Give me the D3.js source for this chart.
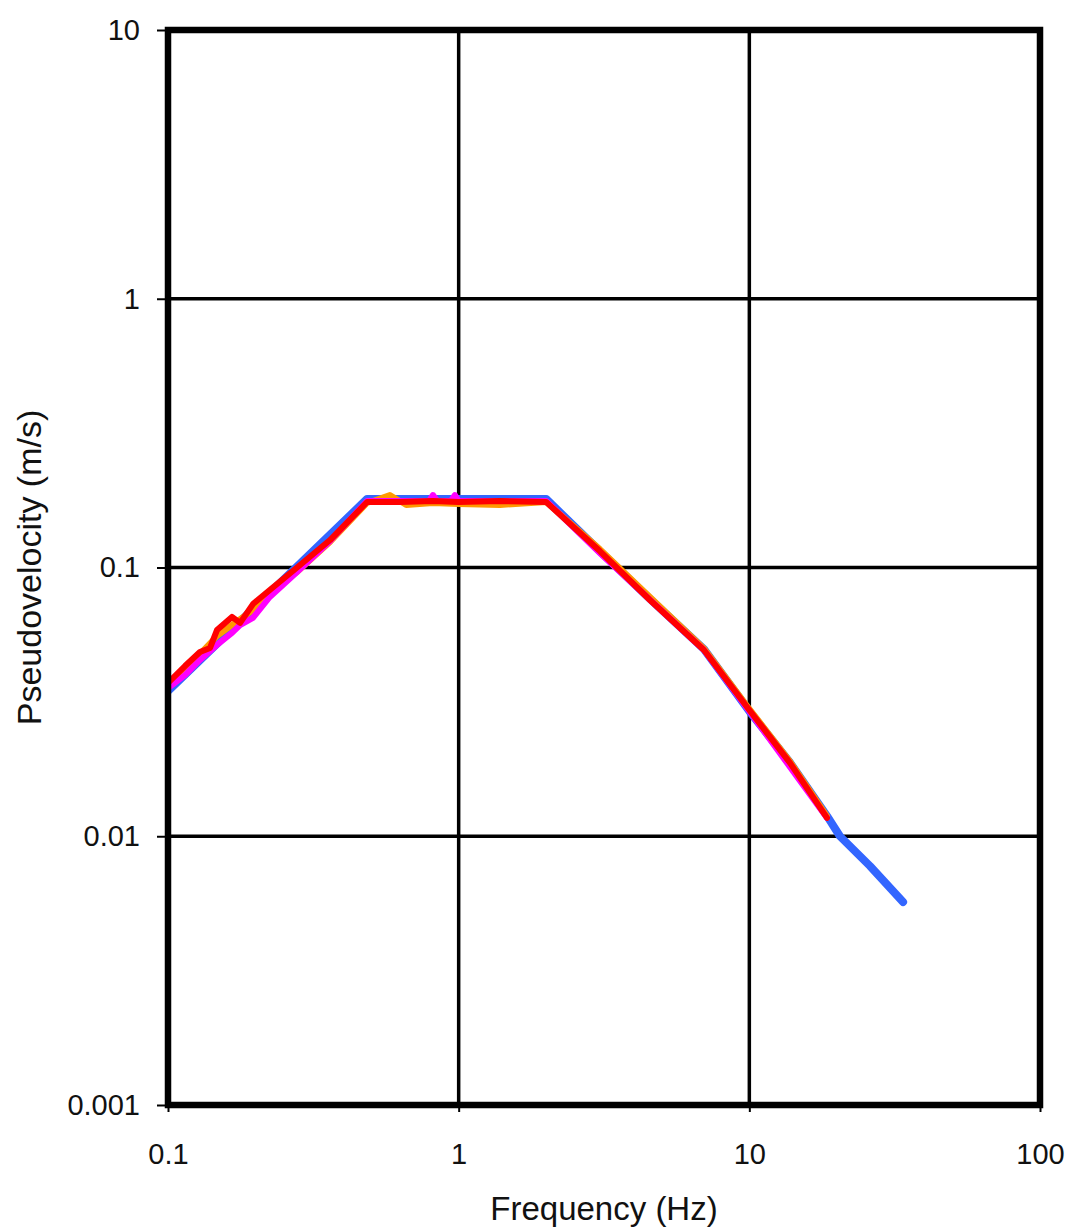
<!DOCTYPE html>
<html>
<head>
<meta charset="utf-8">
<script src="https://d3js.org/d3.v7.min.js"></script>
<style>
  body { margin: 0; background: #fff; }
  text { font-family: "Liberation Sans", Arial, sans-serif; fill: #111; }
</style>
</head>
<body>
<div id="chart"></div>
<script>
// ticks
const xTicks = [0.1, 1, 10, 100];
const yTicks = [0.001, 0.01, 0.1, 1, 10];

// blue record (longest, goes to ~34 Hz)
const blueF = [0.1, 0.484, 2.0, 3.06, 4.55, 6.98, 10, 13.8, 18.5, 20.5, 26.0, 33.8];
const blueV = [0.0347, 0.1799, 0.1799, 0.1151, 0.0764, 0.0497, 0.0292, 0.0188, 0.0119, 0.0100, 0.00775, 0.00569];

// orange record
const orangeF = [0.1, 0.1288, 0.1474, 0.166, 0.196, 0.224, 0.278, 0.361, 0.484, 0.58, 0.66, 0.816, 1.0, 1.387, 2.0, 3.06, 6.98, 10, 13.8, 18.5];
const orangeV = [0.0362, 0.0477, 0.0556, 0.0611, 0.0695, 0.0811, 0.0962, 0.1244, 0.1738, 0.1861, 0.1709, 0.1738, 0.1723, 0.1709, 0.1753, 0.1171, 0.0500, 0.0298, 0.0190, 0.0119];

// magenta record
const magentaF = [0.1, 0.1144, 0.1288, 0.1474, 0.166, 0.177, 0.196, 0.224, 0.278, 0.361, 0.484, 0.628, 0.79, 0.816, 0.845, 0.94, 0.971, 1.0, 1.387, 2.0, 3.06, 6.98, 10, 18.5];
const magentaV = [0.0356, 0.0398, 0.0453, 0.0515, 0.0571, 0.0611, 0.0649, 0.0777, 0.0962, 0.1254, 0.1768, 0.1768, 0.1768, 0.1860, 0.1768, 0.1768, 0.1860, 0.1768, 0.1768, 0.1768, 0.1132, 0.0493, 0.0292, 0.0117];

// red record (on top)
const redF = [0.1, 0.1144, 0.1288, 0.1395, 0.1474, 0.166, 0.177, 0.196, 0.224, 0.278, 0.361, 0.484, 0.628, 0.816, 1.0, 1.387, 2.0, 3.06, 4.55, 6.98, 10, 13.8, 18.5];
const redV = [0.0372, 0.0430, 0.0485, 0.0502, 0.0585, 0.0655, 0.0622, 0.0731, 0.0825, 0.1, 0.1265, 0.1753, 0.1753, 0.1768, 0.1753, 0.1768, 0.1753, 0.1151, 0.0757, 0.0493, 0.0295, 0.01875, 0.0117];

let width = 1071, height = 1232;
let pLeft = 168, pRight = 1040, pTop = 30, pBottom = 1105;

let svg = d3.select("#chart")
    .append("svg")
    .attr("width", width)
    .attr("height", height);

let x = d3.scaleLog().domain([0.1, 100]).range([pLeft, pRight]);
let y = d3.scaleLog().domain([0.001, 10]).range([pBottom, pTop]);

// gridlines
svg.selectAll(".vgrid")
    .data(xTicks.slice(1, -1))
  .enter().append("line")
    .attr("x1", d => x(d)).attr("x2", d => x(d))
    .attr("y1", pTop).attr("y2", pBottom)
    .attr("stroke", "#000").attr("stroke-width", 3.5);

svg.selectAll(".hgrid")
    .data(yTicks.slice(1, -1))
  .enter().append("line")
    .attr("x1", pLeft).attr("x2", pRight)
    .attr("y1", d => y(d)).attr("y2", d => y(d))
    .attr("stroke", "#000").attr("stroke-width", 3.5);

// axes
let fmt = d => String(d);

let xAxis = svg.append("g")
    .attr("transform", "translate(0," + pBottom + ")")
    .call(d3.axisBottom(x).tickValues(xTicks).tickFormat(fmt).tickSize(7).tickPadding(31));

let yAxis = svg.append("g")
    .attr("transform", "translate(" + pLeft + ",0)")
    .call(d3.axisLeft(y).tickValues(yTicks).tickFormat(fmt).tickSize(11).tickPadding(17));

[xAxis, yAxis].forEach(function(a){
  a.select(".domain").remove();
  a.selectAll(".tick line").attr("stroke", "#000").attr("stroke-width", 2);
  a.selectAll(".tick text")
    .style("font-family", '"Liberation Sans", Arial, sans-serif')
    .style("font-size", "29px")
    .attr("fill", "#1a1a1a");
});

// series
let line = d3.line()
    .x(d => x(d[0]))
    .y(d => y(d[1]));

let series = [
  {f: blueF, v: blueV, color: "#3366FF", w: 8},
  {f: orangeF, v: orangeV, color: "#FF9900", w: 6},
  {f: magentaF, v: magentaV, color: "#FF00FF", w: 6},
  {f: redF, v: redV, color: "#FF0000", w: 6}
];

svg.append("clipPath").attr("id", "plotclip")
  .append("rect").attr("x", pLeft).attr("y", pTop)
  .attr("width", pRight - pLeft).attr("height", pBottom - pTop);

series.forEach(function(s){
  svg.append("path")
    .datum(s.f.map((f, i) => [f, s.v[i]]))
    .attr("d", line)
    .attr("fill", "none")
    .attr("stroke", s.color)
    .attr("stroke-width", s.w)
    .attr("stroke-linejoin", "round")
    .attr("stroke-linecap", "round")
    .attr("clip-path", "url(#plotclip)");
});

// frame
svg.append("rect")
    .attr("x", pLeft).attr("y", pTop)
    .attr("width", pRight - pLeft).attr("height", pBottom - pTop)
    .attr("fill", "none")
    .attr("stroke", "#000")
    .attr("stroke-width", 6.5);

// axis titles
svg.append("text")
    .attr("x", (pLeft + pRight) / 2)
    .attr("y", 1220)
    .attr("text-anchor", "middle")
    .style("font-size", "33px")
    .text("Frequency (Hz)");

svg.append("text")
    .attr("transform", "translate(41," + ((pTop + pBottom) / 2) + ") rotate(-90)")
    .attr("text-anchor", "middle")
    .style("font-size", "34px")
    .text("Pseudovelocity (m/s)");
</script>
</body>
</html>
